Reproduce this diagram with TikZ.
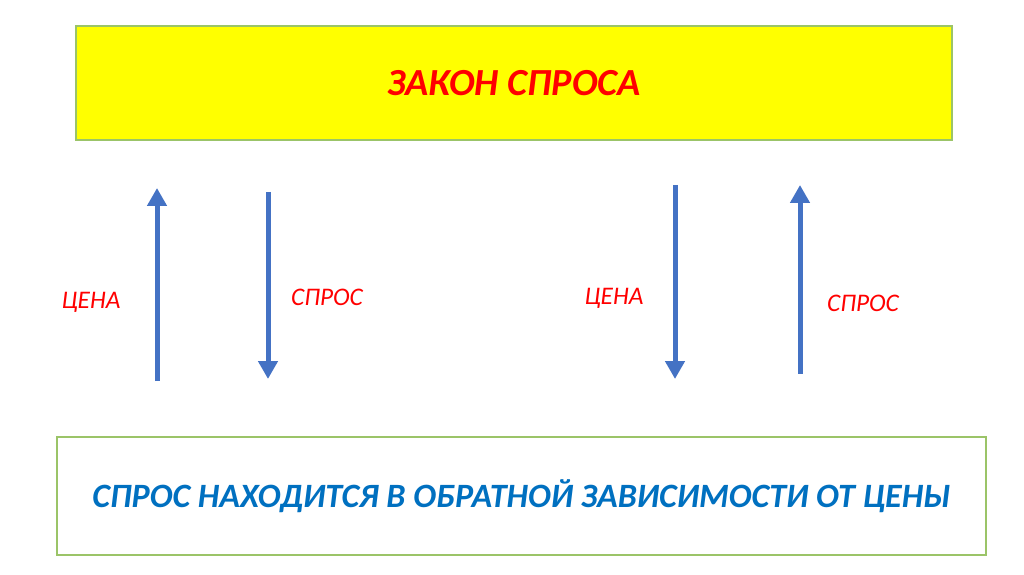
\documentclass[tikz,border=0pt]{standalone}
\usepackage{fontspec}
\setmainfont{Carlito}
\usetikzlibrary{arrows.meta}
\definecolor{arrowblue}{HTML}{4472C4}
\definecolor{boxgreen}{HTML}{9BC468}
\definecolor{lawred}{HTML}{FF0000}
\definecolor{textblue}{HTML}{0070C0}
\definecolor{lawyellow}{HTML}{FFFF00}
\tikzset{
    lawbox/.style={draw=boxgreen, line width=0.6pt, minimum width=8.76cm, minimum height=1.14cm},
    label/.style={text=lawred, font=\fontsize{7.2}{9}\selectfont\itshape},
    move/.style={draw=arrowblue, line width=0.05cm, -{Triangle[width=0.19cm, length=0.18cm]}}
}
\begin{document}
\begin{tikzpicture}
        \useasboundingbox (0,0) rectangle (10.24,5.74);
        \node[lawbox, fill=lawyellow] (law) at (5.14,4.91) {};
        \node[text=lawred, font=\fontsize{10.9}{13}\selectfont\bfseries\itshape] (title) at (law) {ЗАКОН СПРОСА};
        \node[lawbox, fill=white, minimum width=9.29cm, minimum height=1.18cm] (rule) at (5.215,0.78) {};
        \node[text=textblue, font=\fontsize{9.7}{12}\selectfont\bfseries\itshape] (ruletext) at (rule) {СПРОС НАХОДИТСЯ В ОБРАТНОЙ ЗАВИСИМОСТИ ОТ ЦЕНЫ};
        
        \node[label] (price1) at (0.91,2.72) {ЦЕНА};
        \node[label] (demand1) at (3.27,2.77) {СПРОС};
        \node[label] (price2) at (6.14,2.76) {ЦЕНА};
        \node[label] (demand2) at (8.63,2.71) {СПРОС};
        
        \coordinate (p1a) at (1.57,1.93);
        \coordinate (p1b) at (1.57,3.86);
        \coordinate (d1a) at (2.68,3.82);
        \coordinate (d1b) at (2.68,1.95);
        \coordinate (p2a) at (6.75,3.89);
        \coordinate (p2b) at (6.75,1.95);
        \coordinate (d2a) at (8.00,2.00);
        \coordinate (d2b) at (8.00,3.89);
        
        \draw[move] (p1a) -- (p1b);
        \draw[move] (d1a) -- (d1b);
        \draw[move] (p2a) -- (p2b);
        \draw[move] (d2a) -- (d2b);
    \end{tikzpicture}
\end{document}
